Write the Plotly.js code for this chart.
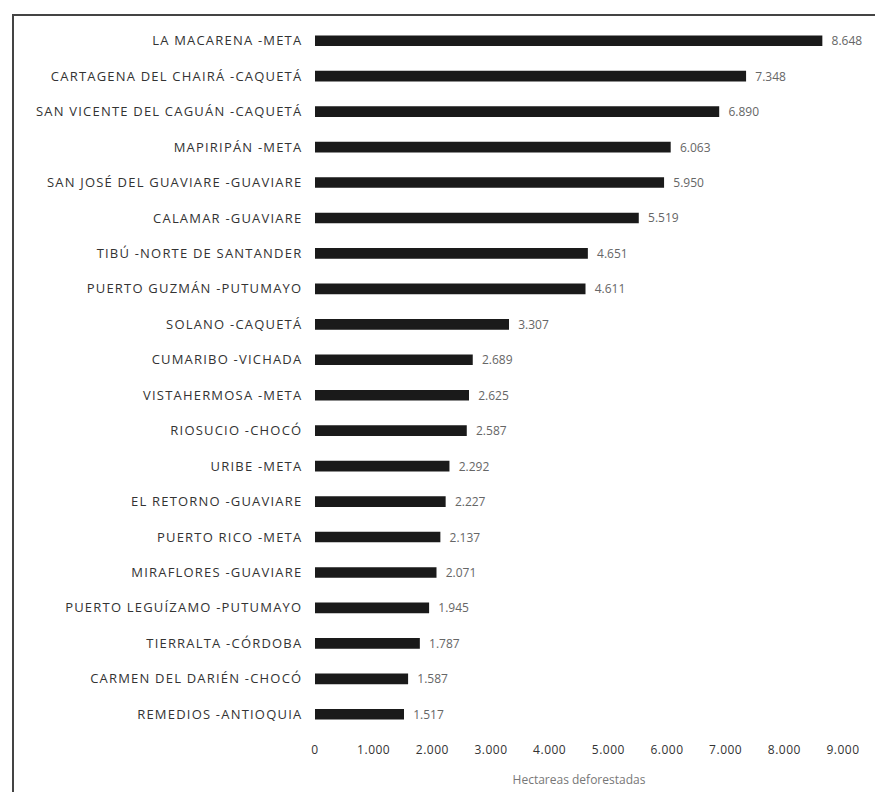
<!DOCTYPE html>
<html>
<head>
<meta charset="utf-8">
<script src="https://cdn.plot.ly/plotly-3.0.1.min.js"></script>
<style>
html,body{margin:0;padding:0;background:#fff;}
#wrap{position:relative;width:875px;height:792px;}
#chart{width:875px;height:792px;}
#frame{position:absolute;left:12px;top:14px;width:900px;height:820px;border-left:2px solid #444;border-top:2px solid #444;pointer-events:none;}
#chart .ytick text{letter-spacing:1.2px;}
#chart .xtick text{letter-spacing:0.5px;}
</style>
</head>
<body>
<div id="wrap">
<div id="chart"></div>
<div id="frame"></div>
</div>
<script>
const municipios = [
  "LA MACARENA -META",
  "CARTAGENA DEL CHAIRÁ -CAQUETÁ",
  "SAN VICENTE DEL CAGUÁN -CAQUETÁ",
  "MAPIRIPÁN -META",
  "SAN JOSÉ DEL GUAVIARE -GUAVIARE",
  "CALAMAR -GUAVIARE",
  "TIBÚ -NORTE DE SANTANDER",
  "PUERTO GUZMÁN -PUTUMAYO",
  "SOLANO -CAQUETÁ",
  "CUMARIBO -VICHADA",
  "VISTAHERMOSA -META",
  "RIOSUCIO -CHOCÓ",
  "URIBE -META",
  "EL RETORNO -GUAVIARE",
  "PUERTO RICO -META",
  "MIRAFLORES -GUAVIARE",
  "PUERTO LEGUÍZAMO -PUTUMAYO",
  "TIERRALTA -CÓRDOBA",
  "CARMEN DEL DARIÉN -CHOCÓ",
  "REMEDIOS -ANTIOQUIA"
];
const hectareas = [8648, 7348, 6890, 6063, 5950, 5519, 4651, 4611, 3307, 2689, 2625, 2587, 2292, 2227, 2137, 2071, 1945, 1787, 1587, 1517];
const tickValues = [0, 1000, 2000, 3000, 4000, 5000, 6000, 7000, 8000, 9000];

const trace = {
  type: 'bar',
  orientation: 'h',
  x: hectareas,
  y: municipios,
  marker: {color: '#1a1a1a'},
  texttemplate: '  %{x:,}',
  textposition: 'outside',
  constraintext: 'none',
  cliponaxis: false,
  textfont: {family: 'Open Sans', size: 12, color: '#666'},
  hoverinfo: 'x+y'
};

const layout = {
  width: 875,
  height: 792,
  margin: {l: 315, r: 32, t: 23, b: 60},
  paper_bgcolor: '#fff',
  plot_bgcolor: '#fff',
  separators: ',.',
  bargap: 0.7,
  showlegend: false,
  font: {family: 'Open Sans', size: 12, color: '#333'},
  xaxis: {
    range: [0, 9000],
    tickvals: tickValues,
    tickformat: ',',
    showgrid: false,
    zeroline: false,
    showline: false,
    ticks: 'outside',
    ticklen: 7,
    tickcolor: 'rgba(0,0,0,0)',
    tickfont: {family: 'Open Sans', size: 12, color: '#333'},
    title: {text: 'Hectareas deforestadas', font: {family: 'Open Sans', size: 12, color: '#777'}, standoff: 18}
  },
  yaxis: {
    autorange: 'reversed',
    showgrid: false,
    zeroline: false,
    showline: false,
    ticks: 'outside',
    ticklen: 9,
    tickcolor: 'rgba(0,0,0,0)',
    tickfont: {family: 'Open Sans', size: 13, color: '#333'}
  }
};

Plotly.newPlot('chart', [trace], layout, {displayModeBar: false, staticPlot: true});
</script>
</body>
</html>
